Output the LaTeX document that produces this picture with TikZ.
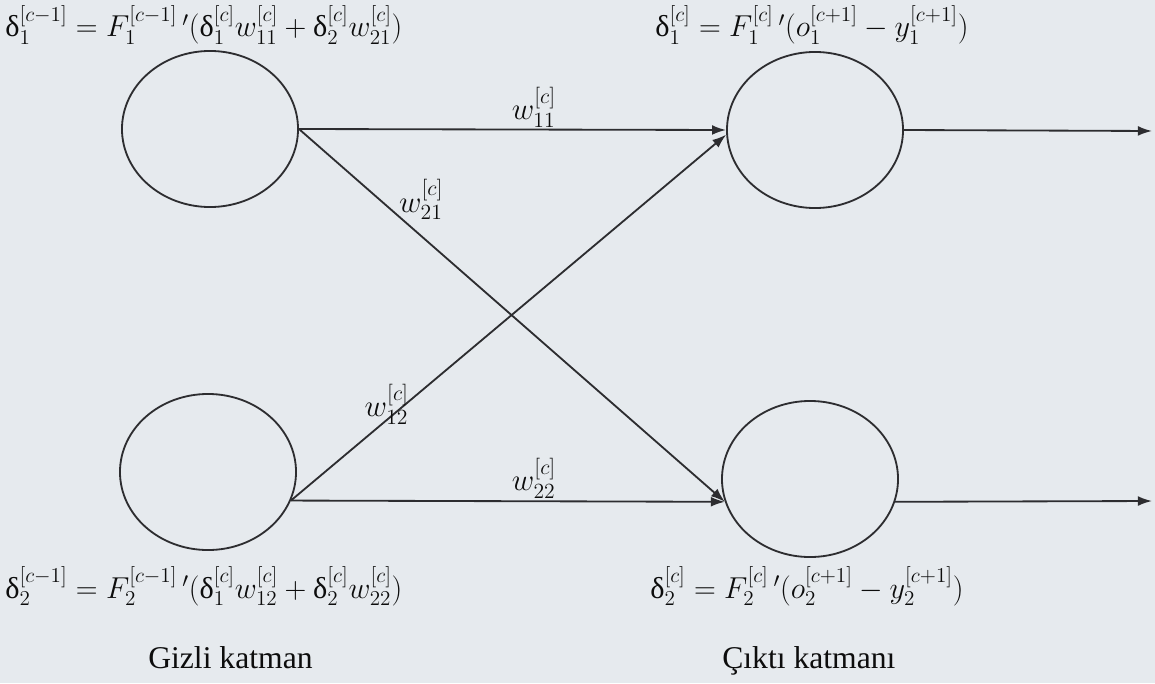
\RequirePackage{fix-cm}
\documentclass[tikz,border=0pt]{standalone}
\usepackage{amsmath}
\usepackage{fontspec}
\setmainfont{Liberation Serif}
\usepackage{tikz}
\usetikzlibrary{arrows.meta,calc,positioning,shapes.geometric}
\definecolor{scanbg}{RGB}{230,234,238}
\definecolor{inkgray}{RGB}{45,45,48}
\newcommand{\dl}{\text{δ}}

\begin{document}
\begin{tikzpicture}[x=0.025cm, y=-0.025cm,
      neuron/.style={ellipse, draw=inkgray, line width=1.3pt, minimum width=4.4cm, minimum height=3.9cm, inner sep=0pt},
      wire/.style={draw=inkgray, line width=1.3pt, -{Latex[length=10pt,width=7pt]}},
      eqn/.style={anchor=base west, inner sep=0pt, text=black!95, font=\fontsize{21.5}{26}\selectfont},
      wlabel/.style={inner sep=1pt, text=black!95, font=\fontsize{22}{26}\selectfont},
      layer/.style={anchor=base west, inner sep=0pt, text=black!95, font=\fontsize{22.5}{27}\selectfont}
    ]
      \fill[scanbg] (0,0) rectangle (1155,683);
      \useasboundingbox (0,0) rectangle (1155,683);

      % Hidden layer
      \node[neuron] (hid1) at (210,129) {};
      \node[neuron] (hid2) at (208,472) {};

      % Output layer
      \node[neuron] (out1) at (815,130) {};
      \node[neuron] (out2) at (810,479) {};
      \coordinate (y1) at (1152,131);
      \coordinate (y2) at (1152,501);

      % Weights
      \draw[wire] (hid1.east) -- node[wlabel, above, pos=.55] {$w_{11}^{[c]}$} (out1.west);
      \draw[wire] (hid1.east) -- node[wlabel, pos=.19, anchor=west, xshift=12pt] {$w_{21}^{[c]}$} (out2.195);
      \draw[wire] (hid2.-19) -- node[wlabel, pos=.22, yshift=11pt] {$w_{12}^{[c]}$} (out1.183);
      \draw[wire] (hid2.-19) -- node[wlabel, above, pos=.56] {$w_{22}^{[c]}$} (out2.195);
      \draw[wire] (out1.east) -- (y1);
      \draw[wire] (out2.-15) -- (y2);

      % Error terms
      \node[eqn] (eqh1) at (5,37) {$\dl_1^{[c-1]} = F_1^{[c-1]}\,{}'(\dl_1^{[c]} w_{11}^{[c]} + \dl_2^{[c]} w_{21}^{[c]})$};
      \node[eqn] (eqo1) at (655,37) {$\dl_1^{[c]} = F_1^{[c]}\,{}'(o_1^{[c+1]} - y_1^{[c+1]})$};
      \node[eqn] (eqh2) at (5,598) {$\dl_2^{[c-1]} = F_2^{[c-1]}\,{}'(\dl_1^{[c]} w_{12}^{[c]} + \dl_2^{[c]} w_{22}^{[c]})$};
      \node[eqn] (eqo2) at (650,598) {$\dl_2^{[c]} = F_2^{[c]}\,{}'(o_2^{[c+1]} - y_2^{[c+1]})$};

      % Layer names
      \node[layer] (hidname) at (148,668) {Gizli katman};
      \node[layer] (outname) at (722,668) {Çıktı katmanı};
    \end{tikzpicture}
\end{document}
